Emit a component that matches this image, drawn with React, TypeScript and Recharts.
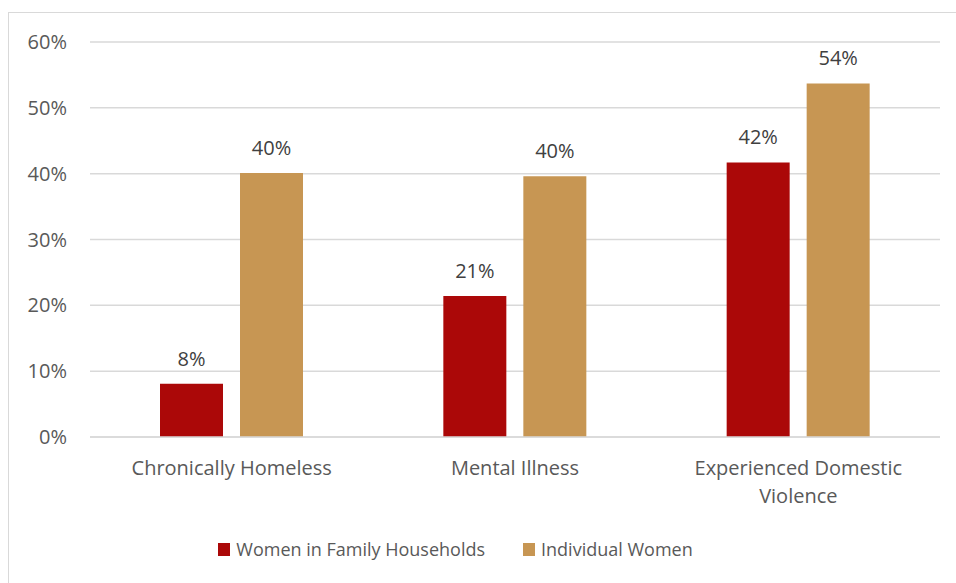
import React from 'react';
import { BarChart, Bar, XAxis, YAxis, CartesianGrid, Legend, LabelList } from 'recharts';

const categories = ['Chronically Homeless', 'Mental Illness', 'Experienced Domestic Violence'];
const womenInFamilyHouseholds = [8.1, 21.4, 41.7];
const individualWomen = [40.1, 39.6, 53.7];
const yTicks = [0, 10, 20, 30, 40, 50, 60];
const seriesNames = ['Women in Family Households', 'Individual Women'];
const seriesColors = ['#AB0808', '#C79653'];

const data = categories.map((c, i) => ({
  name: c,
  family: womenInFamilyHouseholds[i],
  individual: individualWomen[i],
}));

const FONT = '"Open Sans", "Noto Sans", sans-serif';

const wrapWords = (s: string, maxChars: number) => {
  const words = s.split(' ');
  const lines: string[] = [];
  let cur = '';
  words.forEach((w) => {
    const next = cur ? cur + ' ' + w : w;
    if (next.length > maxChars && cur) {
      lines.push(cur);
      cur = w;
    } else {
      cur = next;
    }
  });
  if (cur) lines.push(cur);
  return lines;
};

const CategoryTick = (props: any) => {
  const { x, y, payload } = props;
  const lines = wrapWords(String(payload.value), 22);
  return (
    <text x={x} y={y} textAnchor="middle" fontSize={20} fontFamily={FONT} fill="#595959">
      {lines.map((l, i) => (
        <tspan key={i} x={x} dy={i === 0 ? 14 : 28}>
          {l}
        </tspan>
      ))}
    </text>
  );
};

const LegendContent = () => (
  <div
    style={{
      display: 'flex',
      justifyContent: 'center',
      alignItems: 'center',
      height: 24,
      fontFamily: FONT,
      fontSize: 18,
      color: '#595959',
      paddingRight: 29,
    }}
  >
    {seriesNames.map((n, i) => (
      <div key={n} style={{ display: 'flex', alignItems: 'center', marginRight: i === 0 ? 38 : 0 }}>
        <span style={{ display: 'inline-block', width: 12, height: 13, background: seriesColors[i], marginRight: 6 }} />
        <span>{n}</span>
      </div>
    ))}
  </div>
);

export default function App() {
  return (
    <div style={{ position: 'fixed', left: 0, top: 0, width: 956, height: 583, overflow: 'hidden', background: '#fff' }}>
      <div
        style={{
          position: 'absolute',
          left: 8,
          top: 12,
          width: 1200,
          height: 1200,
          border: '1.5px solid #d9d9d9',
          boxSizing: 'border-box',
        }}
      />
      <div style={{ position: 'absolute', left: 0, top: 0 }}>
        <BarChart
          width={956}
          height={583}
          data={data}
          margin={{ top: 42, right: 16, bottom: 22, left: 0 }}
          barSize={63}
          barGap={17}
        >
          <CartesianGrid vertical={false} stroke="#d9d9d9" strokeWidth={1.5} />
          <XAxis
            dataKey="name"
            height={100}
            tickLine={false}
            axisLine={{ stroke: '#d9d9d9', strokeWidth: 1.5 }}
            tickSize={0}
            tickMargin={24}
            tick={<CategoryTick />}
            interval={0}
          />
          <YAxis
            width={90}
            domain={[0, 60]}
            ticks={yTicks}
            axisLine={false}
            tickLine={false}
            tickSize={0}
            tickMargin={23}
            tickFormatter={(v: number) => `${v}%`}
            tick={{ fill: '#595959', fontSize: 20, fontFamily: FONT }}
          />
          <Legend verticalAlign="bottom" content={<LegendContent />} />
          <Bar dataKey="family" name={seriesNames[0]} fill={seriesColors[0]} isAnimationActive={false}>
            <LabelList
              dataKey="family"
              position="top"
              offset={18}
              formatter={(v: number) => `${Math.round(v)}%`}
              style={{ fill: '#404040', fontSize: 20, fontFamily: FONT }}
            />
          </Bar>
          <Bar dataKey="individual" name={seriesNames[1]} fill={seriesColors[1]} isAnimationActive={false}>
            <LabelList
              dataKey="individual"
              position="top"
              offset={18}
              formatter={(v: number) => `${Math.round(v)}%`}
              style={{ fill: '#404040', fontSize: 20, fontFamily: FONT }}
            />
          </Bar>
        </BarChart>
      </div>
    </div>
  );
}
